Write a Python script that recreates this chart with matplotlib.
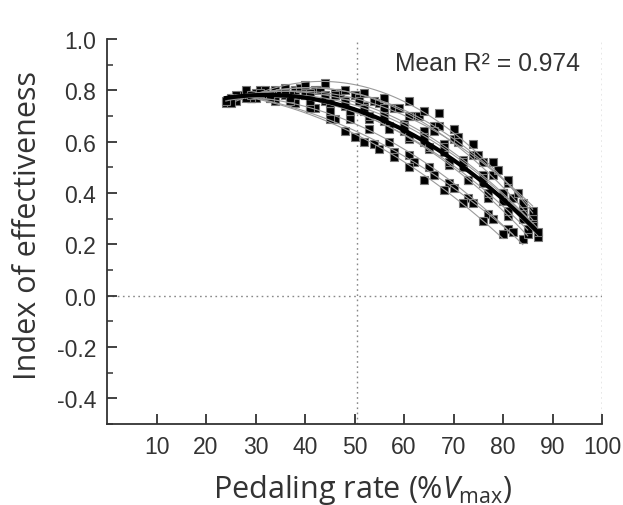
import numpy as np
import matplotlib
matplotlib.use("Agg")
import matplotlib.pyplot as plt
from matplotlib.ticker import MultipleLocator

# ---- data: per-subject pedaling rate (%Vmax) and index of effectiveness ----
s1_x = [26, 30, 34, 38, 42, 46, 50, 54, 58, 62, 66, 70, 74, 78, 82, 86]
s1_y = [0.77, 0.79, 0.80, 0.80, 0.80, 0.79, 0.78, 0.76, 0.73, 0.70, 0.66, 0.61, 0.55, 0.47, 0.38, 0.27]
s2_x = [25, 29, 33, 37, 41, 45, 49, 53, 57, 61, 65, 69, 73, 77, 81, 84]
s2_y = [0.76, 0.77, 0.77, 0.76, 0.74, 0.72, 0.69, 0.65, 0.60, 0.55, 0.50, 0.44, 0.38, 0.32, 0.26, 0.22]
s3_x = [24, 28, 32, 36, 40, 44, 48, 52, 56, 60, 64, 68, 72, 76, 80, 84, 87]
s3_y = [0.75, 0.78, 0.79, 0.78, 0.78, 0.76, 0.74, 0.72, 0.68, 0.64, 0.60, 0.56, 0.50, 0.44, 0.37, 0.30, 0.23]
s4_x = [27, 31, 35, 39, 43, 47, 51, 55, 59, 63, 67, 71, 75, 79, 83, 86]
s4_y = [0.78, 0.80, 0.79, 0.81, 0.80, 0.79, 0.77, 0.75, 0.73, 0.70, 0.66, 0.62, 0.55, 0.49, 0.40, 0.30]
s5_x = [26, 30, 34, 38, 42, 46, 50, 54, 58, 62, 66, 70, 74, 78, 82]
s5_y = [0.76, 0.77, 0.76, 0.75, 0.73, 0.69, 0.62, 0.59, 0.56, 0.52, 0.47, 0.42, 0.36, 0.30, 0.25]
s6_x = [28, 32, 36, 40, 44, 48, 52, 56, 60, 64, 68, 72, 76, 80, 84, 87]
s6_y = [0.79, 0.79, 0.80, 0.79, 0.78, 0.76, 0.74, 0.71, 0.67, 0.64, 0.59, 0.53, 0.47, 0.40, 0.33, 0.25]
s7_x = [25, 29, 33, 37, 41, 45, 49, 53, 57, 61, 65, 69, 73, 77, 81, 85]
s7_y = [0.77, 0.77, 0.78, 0.78, 0.77, 0.75, 0.72, 0.69, 0.66, 0.61, 0.57, 0.51, 0.45, 0.38, 0.31, 0.24]
s8_x = [28, 32, 36, 40, 44, 48, 52, 56, 61, 64, 67, 70, 74, 78, 81, 84, 86]
s8_y = [0.80, 0.80, 0.81, 0.82, 0.83, 0.80, 0.79, 0.77, 0.76, 0.72, 0.71, 0.65, 0.59, 0.52, 0.44, 0.36, 0.28]
s9_x = [25, 29, 33, 37, 41, 45, 48, 52, 55, 58, 61, 64, 68, 72, 76, 80]
s9_y = [0.75, 0.77, 0.77, 0.76, 0.73, 0.69, 0.64, 0.60, 0.57, 0.54, 0.50, 0.45, 0.41, 0.36, 0.29, 0.24]
s10_x = [24, 28, 32, 36, 40, 44, 48, 52, 56, 60, 64, 68, 72, 76, 80, 84, 86]
s10_y = [0.76, 0.77, 0.78, 0.79, 0.78, 0.77, 0.75, 0.73, 0.70, 0.66, 0.62, 0.58, 0.52, 0.46, 0.40, 0.32, 0.27]
s11_x = [29, 33, 37, 41, 45, 49, 53, 57, 61, 65, 69, 73, 77, 81, 85]
s11_y = [0.78, 0.78, 0.77, 0.76, 0.75, 0.72, 0.70, 0.65, 0.62, 0.58, 0.52, 0.45, 0.40, 0.33, 0.26]
s12_x = [26, 31, 36, 41, 46, 51, 56, 61, 66, 71, 76, 81, 86]
s12_y = [0.78, 0.79, 0.79, 0.79, 0.78, 0.76, 0.73, 0.70, 0.64, 0.60, 0.52, 0.45, 0.33]

subjects = [(s1_x, s1_y), (s2_x, s2_y), (s3_x, s3_y), (s4_x, s4_y), (s5_x, s5_y),
            (s6_x, s6_y), (s7_x, s7_y), (s8_x, s8_y), (s9_x, s9_y), (s10_x, s10_y),
            (s11_x, s11_y), (s12_x, s12_y)]

x_ticks = [10, 20, 30, 40, 50, 60, 70, 80, 90, 100]
y_ticks = [-0.4, -0.2, 0.0, 0.2, 0.4, 0.6, 0.8, 1.0]
ref_x = [50.6, 100]
annotation = "Mean R² = 0.974"

plt.rcParams['mathtext.fontset'] = 'custom'
plt.rcParams['mathtext.rm'] = 'Open Sans'
plt.rcParams['mathtext.it'] = 'Open Sans:italic'

txt = '#333333'
fig = plt.figure(figsize=(6.23, 5.06), dpi=100)
ax = fig.add_axes([107/623, (506-425)/506, (602-107)/623, (425-40)/506])

# reference lines
ax.axhline(0, color='#888888', ls=(0, (1.2, 2.5)), lw=1.0, zorder=1)
for xv in ref_x:
    ax.axvline(xv, color='#888888', ls=(0, (1.2, 2.5)), lw=1.0, zorder=1)

# points
for sx, sy in subjects:
    ax.plot(sx, sy, ls='none', marker='s', ms=5.8, mfc='black', mec='#777777',
            mew=0.8, zorder=2)

# individual quadratic fits
for sx, sy in subjects:
    c = np.polyfit(sx, sy, 2)
    xx = np.linspace(min(sx), max(sx), 100)
    ax.plot(xx, np.polyval(c, xx), color='#9a9a9a', lw=0.8, zorder=3)

# mean fit
all_x = np.concatenate([np.array(s[0], float) for s in subjects])
all_y = np.concatenate([np.array(s[1], float) for s in subjects])
cm = np.polyfit(all_x, all_y, 2)
xx = np.linspace(all_x.min(), all_x.max(), 200)
ax.plot(xx, np.polyval(cm, xx), color='black', lw=3, zorder=4)

ax.set_xlim(0, 100)
ax.set_ylim(-0.5, 1.0)
ax.set_xticks(x_ticks)
ax.set_yticks(y_ticks)
ax.yaxis.set_minor_locator(MultipleLocator(0.1))
ax.set_yticklabels([f"{v:.1f}" for v in y_ticks])

for s in ['top', 'right']:
    ax.spines[s].set_visible(False)
for s in ['left', 'bottom']:
    ax.spines[s].set_color(txt)
    ax.spines[s].set_linewidth(1.3)

ax.tick_params(axis='both', which='major', direction='in', length=7, width=1.3,
               color=txt, labelcolor=txt, labelsize=16.5, pad=8)
ax.tick_params(axis='y', which='minor', direction='in', length=4, width=1.1, color=txt)
for lab in ax.get_xticklabels() + ax.get_yticklabels():
    lab.set_fontfamily('Liberation Sans')

ax.set_xlabel(r'Pedaling rate (%$V_{\mathrm{max}}$)', fontsize=22, family='Open Sans',
              color=txt, labelpad=14)
ax.xaxis.set_label_coords((363-107)/495, -0.19)
ax.xaxis.label.set_va('baseline')
ax.set_ylabel('Index of effectiveness', fontsize=22, family='Open Sans', color=txt,
              labelpad=8)
ax.yaxis.set_label_coords(-(107-43)/495, (425-225)/385)

ax.text((580-107)/495, (425-71)/385, annotation, transform=ax.transAxes, ha='right',
        va='baseline', fontsize=17.8, family='Liberation Sans', color=txt)

fig.savefig('out.png', dpi=100)
